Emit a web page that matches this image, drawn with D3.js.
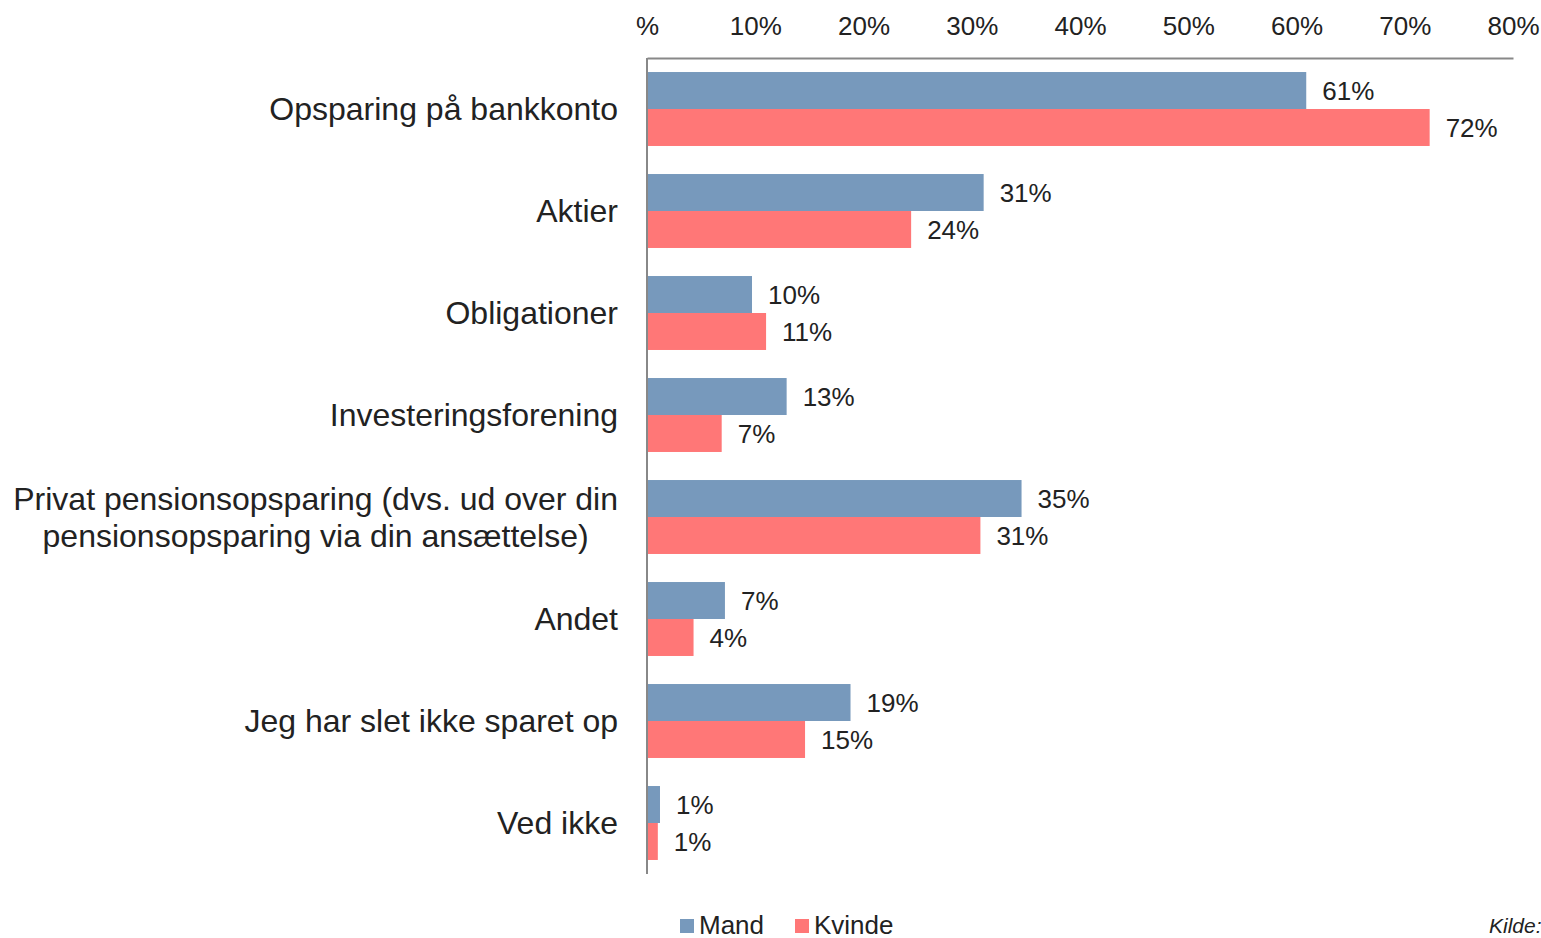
<!DOCTYPE html>
<html>
<head>
<meta charset="utf-8">
<script src="https://cdn.jsdelivr.net/npm/d3@7"></script>
<style>
  body { margin: 0; background: #fff; }
  text { font-family: "Liberation Sans", Arial, sans-serif; fill: #222; }
</style>
</head>
<body>
<div class="chart"></div>
<script>
// categories (top to bottom), "|" marks a line break
const categories = [
    "Opsparing på bankkonto",
    "Aktier",
    "Obligationer",
    "Investeringsforening",
    "Privat pensionsopsparing (dvs. ud over din|pensionsopsparing via din ansættelse)",
    "Andet",
    "Jeg har slet ikke sparet op",
    "Ved ikke"
];
const series = ["Mand", "Kvinde"];
const mand   = [60.9, 31.1, 9.7, 12.9, 34.6, 7.2, 18.8, 1.2];
const kvinde = [72.3, 24.4, 11.0, 6.9, 30.8, 4.3, 14.6, 1.0];
const tick_values = [0, 10, 20, 30, 40, 50, 60, 70, 80];

const colors = { Mand: "#7799bc", Kvinde: "#ff7777" };

const W = 1541, H = 938;
const margin = { top: 58, left: 647, right: 28, bottom: 64 };
const width = W - margin.left - margin.right;
const height = H - margin.top - margin.bottom;

const svg = d3.select(".chart")
    .append("svg")
    .attr("width", W)
    .attr("height", H);

const g = svg.append("g")
    .attr("transform", `translate(${margin.left},${margin.top})`);

const x = d3.scaleLinear().domain([0, 80]).range([0, width]);

const y = d3.scaleBand()
    .domain(categories)
    .range([0, height])
    .paddingInner(0.275)
    .paddingOuter(0.1375);

const y_inner = d3.scaleBand()
    .domain(series)
    .range([0, y.bandwidth()]);

// top axis (labels only + line)
const xAxis = g.append("g")
    .call(d3.axisTop(x)
        .tickValues(tick_values)
        .tickSize(0)
        .tickPadding(23)
        .tickFormat(d => d === 0 ? "%" : d + "%"));
xAxis.select(".domain").attr("stroke", "#888").attr("stroke-width", 2);
xAxis.selectAll("text")
    .style("font-size", "26px")
    .attr("fill", "#222");

// left axis line
g.append("line")
    .attr("x1", 0).attr("x2", 0)
    .attr("y1", 0).attr("y2", height)
    .attr("stroke", "#888")
    .attr("stroke-width", 2);

// category labels: single lines right-aligned, wrapped ones centred as a block
const label_right = -29;
categories.forEach(function(c) {
    const lines = c.split("|");
    const cy = y(c) + y.bandwidth() / 2;
    const t = g.append("text")
        .style("font-size", "32px");
    const spans = lines.map(function(l, i) {
        return t.append("tspan")
            .attr("y", cy + (i - (lines.length - 1) / 2) * 37)
            .attr("dy", "0.35em")
            .text(l);
    });
    if (lines.length === 1) {
        t.attr("text-anchor", "end");
        spans[0].attr("x", label_right);
    } else {
        const maxw = d3.max(spans, s => s.node().getComputedTextLength());
        t.attr("text-anchor", "middle");
        spans.forEach(s => s.attr("x", label_right - maxw / 2));
    }
});

// bars
const rows = categories.map((c, i) => ({ cat: c, Mand: mand[i], Kvinde: kvinde[i] }));

series.forEach(function(s) {
    g.selectAll("rect." + s)
        .data(rows)
        .enter()
        .append("rect")
        .attr("class", s)
        .attr("x", 1)
        .attr("y", d => y(d.cat) + y_inner(s))
        .attr("width", d => x(d[s]) - 1)
        .attr("height", y_inner.bandwidth())
        .attr("fill", colors[s]);

    g.selectAll("text." + s)
        .data(rows)
        .enter()
        .append("text")
        .attr("class", s)
        .attr("x", d => x(d[s]) + 16)
        .attr("y", d => y(d.cat) + y_inner(s) + y_inner.bandwidth() / 2)
        .attr("dy", "0.35em")
        .style("font-size", "26px")
        .text(d => Math.round(d[s]) + "%");
});

// legend
const legend = svg.append("g").attr("transform", "translate(680,925)");
const legend_x = [0, 115];
series.forEach(function(s, i) {
    legend.append("rect")
        .attr("x", legend_x[i])
        .attr("y", -6)
        .attr("width", 14)
        .attr("height", 14)
        .attr("fill", colors[s]);
    legend.append("text")
        .attr("x", legend_x[i] + 19)
        .attr("y", 0)
        .attr("dy", "0.35em")
        .style("font-size", "26px")
        .text(s);
});

// source note (cut off at the edge as in the original)
svg.append("text")
    .attr("x", 1489)
    .attr("y", 926)
    .attr("dy", "0.35em")
    .style("font-size", "21px")
    .style("font-style", "italic")
    .text("Kilde:");
</script>
</body>
</html>
